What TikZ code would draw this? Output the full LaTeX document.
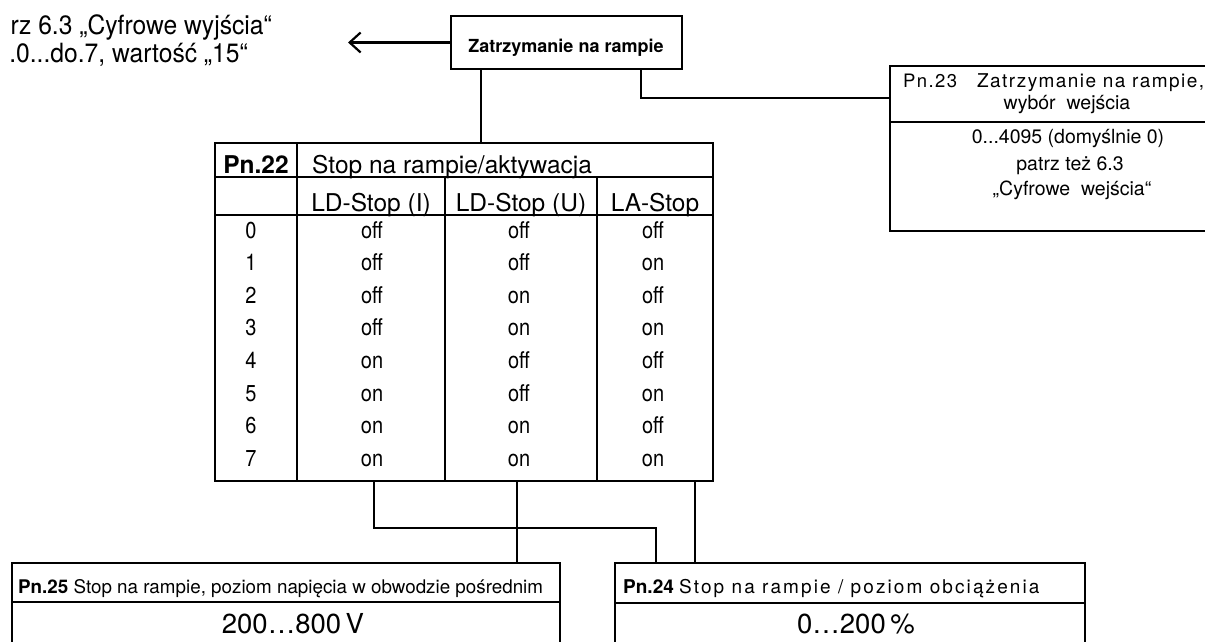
\documentclass[tikz,border=0pt]{standalone}
\usepackage{fontspec}
\setmainfont{TeX Gyre Heros}
\newfontfamily\spaced[LetterSpace=7.5]{TeX Gyre Heros}
\newfontfamily\spacedb[LetterSpace=11]{TeX Gyre Heros}
\newfontfamily\narrowA[FakeStretch=0.87]{TeX Gyre Heros}
\newfontfamily\narrowB[FakeStretch=0.93]{TeX Gyre Heros}
\usetikzlibrary{arrows.meta,calc}
\newcommand{\myfs}[1]{\fontsize{#1}{#1}\selectfont}
\tikzset{
  box/.style={draw, line width=2.6pt, inner sep=0pt, rectangle},
  wire/.style={line width=2.4pt},
  grid/.style={line width=2pt},
  txt/.style={inner sep=0pt, anchor=base},
  body/.style={txt, font=\narrowA\myfs{23}},
  head/.style={txt, font=\myfs{24.5}},
  pn/.style={txt, font=\myfs{19.5}},
}
\begin{document}
\begin{tikzpicture}[x=1pt, y=-1pt]
\useasboundingbox (0,0) rectangle (1205,642);
\clip (0,0) rectangle (1205,642);

% top box
\node[box, minimum width=231pt, minimum height=53pt] (top) at (566.5,42.5) {};
\node[txt, font=\bfseries\myfs{18}] (toptext) at (566,53) {Zatrzymanie na rampie};
\coordinate (arrowend) at (348,42.5);
\draw[wire, -{Straight Barb[length=11pt,width=20pt,line width=2.2pt]}] (top.west) -- (arrowend);

% note at the left
\node[txt, anchor=base east, font=\narrowB\myfs{26.5}] (note1) at (272,35) {rz 6.3 „Cyfrowe wyjścia“};
\node[txt, anchor=base east, font=\narrowB\myfs{26.5}] (note2) at (248,63) {.0...do.7, wartość „15“};

% Pn.23 box
\node[box, minimum width=350pt, minimum height=165pt] (p23) at (1065,148.5) {};
\draw[line width=2.6pt] (890,122) -- (1240,122);
\node[pn, anchor=base west, font=\spaced\myfs{18.5}] (p23a) at (903,88) {Pn.23};
\node[pn, anchor=base west, font=\spaced\myfs{19}] (p23b) at (977,88) {Zatrzymanie na rampie,};
\node[pn] (p23c) at (1067,110) {wybór\ \ wejścia};
\node[pn] (p23d) at (1068,143) {0...4095 (domyślnie 0)};
\node[pn] (p23e) at (1070,170) {patrz też 6.3};
\node[pn] (p23f) at (1072,195) {„Cyfrowe\ \ wejścia“};

\coordinate (k1) at (641,98);
\draw[wire] (top.south -| k1) |- (p23.west |- k1);

% table Pn.22
\node[box, minimum width=498pt, minimum height=338pt] (tab) at (464,312) {};
\draw[grid] (215,177) -- (713,177);
\draw[grid] (215,215) -- (713,215);
\draw[grid] (297,143) -- (297,481);
\draw[grid] (445,177) -- (445,481);
\draw[grid] (597,177) -- (597,481);

\coordinate (c1) at (481,0);
\draw[wire] (top.south -| c1) -- (tab.north -| c1);

\node[head, font=\bfseries\myfs{24.5}] (pn22) at (256,173) {Pn.22};
\node[head, anchor=base west] (t22) at (312,173) {Stop na rampie/aktywacja};
\node[head] (hA) at (371,211) {LD-Stop (I)};
\node[head] (hB) at (521,211) {LD-Stop (U)};
\node[head] (hC) at (655,211) {LA-Stop};

\foreach \i/\a/\b/\c in {0/off/off/off,1/off/off/on,2/off/on/off,3/off/on/on,4/on/off/off,5/on/off/on,6/on/on/off,7/on/on/on}{
  \pgfmathsetmacro{\yy}{238+32.6*\i}
  \node[body] (n\i) at (251,\yy) {\i};
  \node[body] (a\i) at (372,\yy) {\a};
  \node[body] (b\i) at (519,\yy) {\b};
  \node[body] (c\i) at (653,\yy) {\c};
}

% bottom boxes
\node[box, minimum width=548pt, minimum height=107pt] (p25) at (286,616.5) {};
\draw[line width=2.6pt] (12,602) -- (560,602);
\node[txt, anchor=base west, font=\myfs{18.8}] (h25) at (18,593) {\textbf{Pn.25} Stop na rampie, poziom napięcia w obwodzie pośrednim};
\node[txt, font=\myfs{27.5}] (v25) at (293,633) {200…800\,V};

\node[box, minimum width=470pt, minimum height=107pt] (p24) at (850,616.5) {};
\draw[line width=2.6pt] (615,603) -- (1085,603);
\node[txt, anchor=base west, font=\myfs{19}] (h24) at (623,593) {\textbf{Pn.24} {\spacedb Stop na rampie / poziom obciążenia}};
\node[txt, font=\myfs{27.5}] (v24) at (856,633) {0…200\,\%};

% wiring below the table
\coordinate (j1) at (374,528);
\coordinate (j2) at (656,528);
\coordinate (j3) at (517,0);
\coordinate (j4) at (695,0);
\draw[wire] (tab.south -| j1) |- (j2) -- (p24.north -| j2);
\draw[wire] (tab.south -| j3) -- (p25.north -| j3);
\draw[wire] (tab.south -| j4) -- (p24.north -| j4);
\end{tikzpicture}
\end{document}
